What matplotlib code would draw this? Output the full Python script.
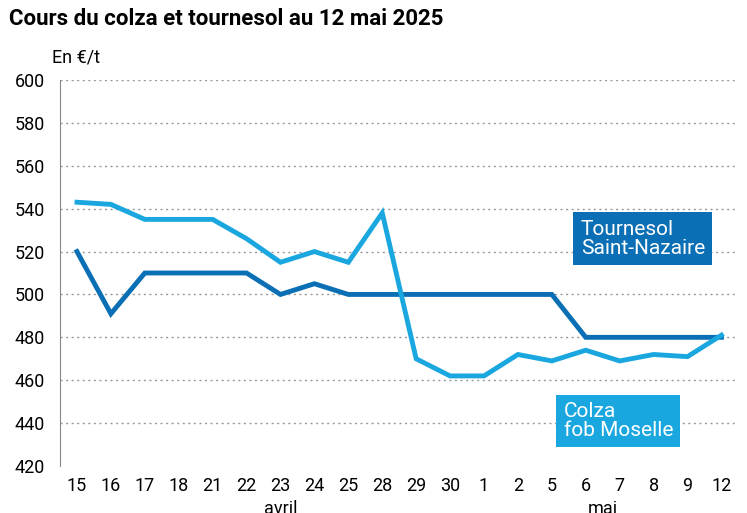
import matplotlib
matplotlib.use("Agg")
import matplotlib.pyplot as plt

labels = ["15","16","17","18","21","22","23","24","25","28","29","30","1","2","5","6","7","8","9","12"]
tournesol = [520,491,510,510,510,510,500,505,500,500,500,500,500,500,500,480,480,480,480,480]
colza = [543,542,535,535,535,526,515,520,515,538,470,462,462,472,469,474,469,472,471,481]
yticks = [420,440,460,480,500,520,540,560,580,600]

dark = "#0a6fb5"; light = "#1aa7df"
plt.rcParams["font.family"] = "Roboto"
fig = plt.figure(figsize=(7.47,5.13), dpi=100)
ax = fig.add_axes([60/747, 1-466/513, 675/747, 386/513])
x = range(len(labels))
ax.plot(x, tournesol, color=dark, lw=3.5, solid_joinstyle="miter")
ax.plot(x, colza, color=light, lw=3.5, solid_joinstyle="miter")
ax.set_ylim(420,600); ax.set_xlim(-0.5, len(labels)-0.6)
ax.set_yticks(yticks)
ax.set_xticks(list(x)); ax.set_xticklabels(labels)
for t in yticks[1:]:
    ax.axhline(t, color="#999999", lw=1, ls=(0,(1.5,2.5)), zorder=0)
for s in ["top","right","bottom"]:
    ax.spines[s].set_visible(False)
ax.spines["left"].set_color("#888888")
ax.tick_params(axis="x", length=0, labelsize=13, pad=8)
ax.tick_params(axis="y", length=0, labelsize=13, pad=11)
ax.text(6, 404, "avril", ha="center", va="top", fontsize=13)
ax.text(15.5, 404, "mai", ha="center", va="top", fontsize=13)
fig.text(0.012, 0.985, "Cours du colza et tournesol au 12 mai 2025", fontsize=16, fontweight="bold", va="top")
fig.text(52/747, 1-58/513, "En €/t", fontsize=13, va="center")
ax.text(14.85, 526, "Tournesol\nSaint-Nazaire", color="white", fontsize=15, va="center", ha="left",
        bbox=dict(boxstyle="square,pad=0.35", fc=dark, ec="none"), linespacing=1.0)
ax.text(14.35, 441, "Colza\nfob Moselle", color="white", fontsize=15, va="center", ha="left",
        bbox=dict(boxstyle="square,pad=0.35", fc=light, ec="none"), linespacing=1.0)
fig.savefig("out.png", dpi=100)
